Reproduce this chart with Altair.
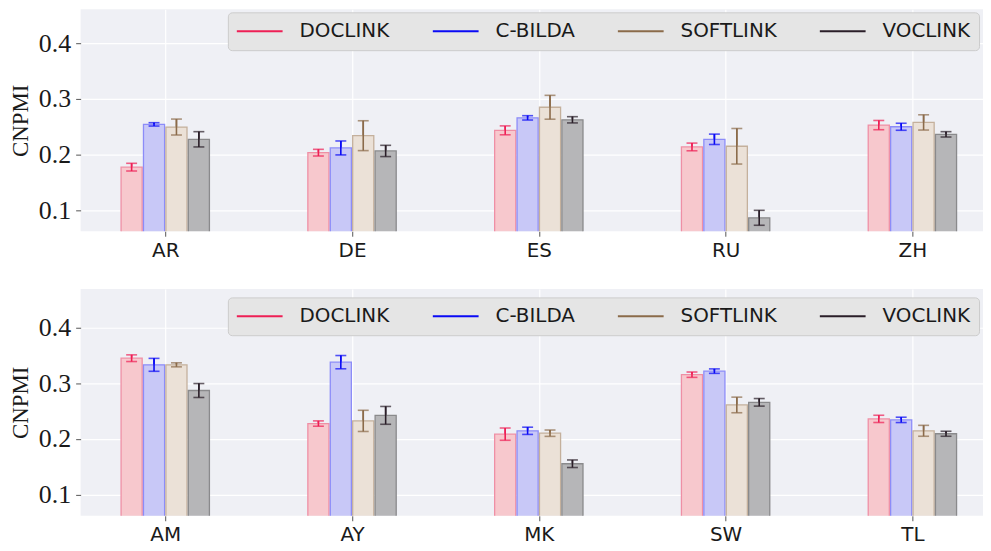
import altair as alt
import pandas as pd

models = ["DOCLINK", "C-BILDA", "SOFTLINK", "VOCLINK"]

top_langs = ["AR", "DE", "ES", "RU", "ZH"]
top_doclink = [0.1775, 0.2035, 0.2436, 0.2138, 0.2530]
top_doclink_err = [0.0069, 0.0060, 0.0080, 0.0069, 0.0083]
top_cbilda = [0.2543, 0.2120, 0.2660, 0.2275, 0.2500]
top_cbilda_err = [0.0030, 0.0125, 0.0039, 0.0093, 0.0063]
top_softlink = [0.2495, 0.2340, 0.2850, 0.2150, 0.2578]
top_softlink_err = [0.0143, 0.0268, 0.0214, 0.0319, 0.0137]
top_voclink = [0.2275, 0.2066, 0.2625, 0.0866, 0.2364]
top_voclink_err = [0.0137, 0.0101, 0.0056, 0.0134, 0.0048]

bot_langs = ["AM", "AY", "MK", "SW", "TL"]
bot_doclink = [0.3446, 0.2273, 0.2083, 0.3150, 0.2357]
bot_doclink_err = [0.0060, 0.0048, 0.0110, 0.0048, 0.0065]
bot_cbilda = [0.3327, 0.3375, 0.2143, 0.3214, 0.2339]
bot_cbilda_err = [0.0116, 0.0119, 0.0065, 0.0040, 0.0048]
bot_softlink = [0.3327, 0.2321, 0.2100, 0.2607, 0.2143]
bot_softlink_err = [0.0036, 0.0190, 0.0057, 0.0140, 0.0098]
bot_voclink = [0.2866, 0.2420, 0.1552, 0.2654, 0.2090]
bot_voclink_err = [0.0125, 0.0160, 0.0068, 0.0068, 0.0045]

line_colors = ["#ee1f55", "#0a0af5", "#8b6b4a", "#2a1e28"]
fill_colors = ["#f7c8cd", "#c8c8f7", "#ebe1d7", "#b6b6b8"]
edge_colors = ["#ef8fa5", "#8c8cf8", "#c4b09c", "#8a8a8c"]

BG = "#eff0f5"
BAR_W = 0.12
HALF = 0.0565


def build_df(langs, series, errs):
    rows = []
    for si, (m, vals, es) in enumerate(zip(models, series, errs)):
        for gi, (lang, v, e) in enumerate(zip(langs, vals, es)):
            pos = gi + (si - 1.5) * BAR_W
            rows.append(dict(lang=lang, model=m, barmodel=m, value=v, lo=v - e, hi=v + e,
                             pos=pos, left=pos - HALF, right=pos + HALF, base=0.0))
    return pd.DataFrame(rows)


def panel(langs, series, errs, height, ydom, legend):
    df = build_df(langs, series, errs)
    label_expr = "[" + ",".join("'%s'" % l for l in langs) + "][datum.value]"
    xscale = alt.Scale(domain=[-0.453, 4.378], nice=False, zero=False)
    xaxis = alt.Axis(values=[0, 1, 2, 3, 4], labelExpr=label_expr, title=None,
                     labelFont="DejaVu Sans", labelFontSize=20, labelColor="#1a1a1a",
                     tickSize=5, tickColor="#555555", labelPadding=4, domain=False,
                     grid=True, gridColor="white", gridWidth=1.2)
    yscale = alt.Scale(domain=ydom, nice=False, zero=False)
    yaxis = alt.Axis(values=[0.1, 0.2, 0.3, 0.4], format=".1f", title="CNPMI",
                     labelFont="Liberation Serif", labelFontSize=26, labelColor="#1a1a1a",
                     tickSize=5, tickColor="#555555", labelPadding=5, domain=False,
                     titleFont="Liberation Serif", titleFontSize=23, titleFontWeight="normal",
                     titleColor="#1a1a1a", titlePadding=6,
                     grid=True, gridColor="white", gridWidth=1.2)

    base = alt.Chart(df)
    xs = alt.X("pos:Q", scale=xscale, axis=xaxis)
    ylo = alt.Y("lo:Q", scale=yscale, axis=yaxis)
    yhi = alt.Y("hi:Q", scale=yscale, axis=yaxis)
    color = alt.Color("model:N", scale=alt.Scale(domain=models, range=line_colors), legend=legend)

    # error-bar stems (also carry the legend), drawn again above the bars
    stems = base.mark_rule(strokeWidth=1.6).encode(x=xs, y=ylo, y2="hi:Q", color=color)
    bars = base.mark_bar(clip=True, strokeWidth=1.3).encode(
        x=alt.X("left:Q", scale=xscale, axis=xaxis),
        x2="right:Q",
        y=alt.Y("value:Q", scale=yscale, axis=yaxis),
        y2="base:Q",
        fill=alt.Fill("barmodel:N", scale=alt.Scale(domain=models, range=fill_colors), legend=None),
        stroke=alt.Stroke("barmodel:N", scale=alt.Scale(domain=models, range=edge_colors), legend=None),
    )
    caps_lo = base.mark_tick(orient="horizontal", size=11, thickness=1.6).encode(
        x=xs, y=ylo, color=color)
    caps_hi = base.mark_tick(orient="horizontal", size=11, thickness=1.6).encode(
        x=xs, y=yhi, color=color)
    return alt.layer(stems, bars, stems, caps_lo, caps_hi).properties(width=907, height=height)


def make_legend(**kw):
    return alt.Legend(orient="none", direction="horizontal",
                      columns=4, symbolType="stroke", symbolSize=2116, symbolStrokeWidth=2,
                      symbolOpacity=1, clipHeight=22,
                      labelFont="DejaVu Sans", labelFontSize=20, labelColor="#1a1a1a",
                      labelOffset=16, columnPadding=42, padding=8,
                      fillColor="#e5e5e5", strokeColor="#cccccc", cornerRadius=4, title=None, **kw)


top = panel(top_langs,
            [top_doclink, top_cbilda, top_softlink, top_voclink],
            [top_doclink_err, top_cbilda_err, top_softlink_err, top_voclink_err],
            223, [0.0625, 0.4607], make_legend(legendX=148, legendY=3))
bottom = panel(bot_langs,
               [bot_doclink, bot_cbilda, bot_softlink, bot_voclink],
               [bot_doclink_err, bot_cbilda_err, bot_softlink_err, bot_voclink_err],
               228, [0.0618, 0.4689], make_legend(legendX=148, legendY=8.5))

chart = alt.vconcat(top, bottom, spacing=58, bounds="flush").resolve_scale(
    color="independent"
).resolve_legend(
    color="independent"
).properties(
    padding={"left": 1, "top": 0, "right": 0, "bottom": 0}
).configure_view(fill=BG, strokeWidth=0)

chart.save("out.html", embed_options={"renderer": "svg", "actions": False})
